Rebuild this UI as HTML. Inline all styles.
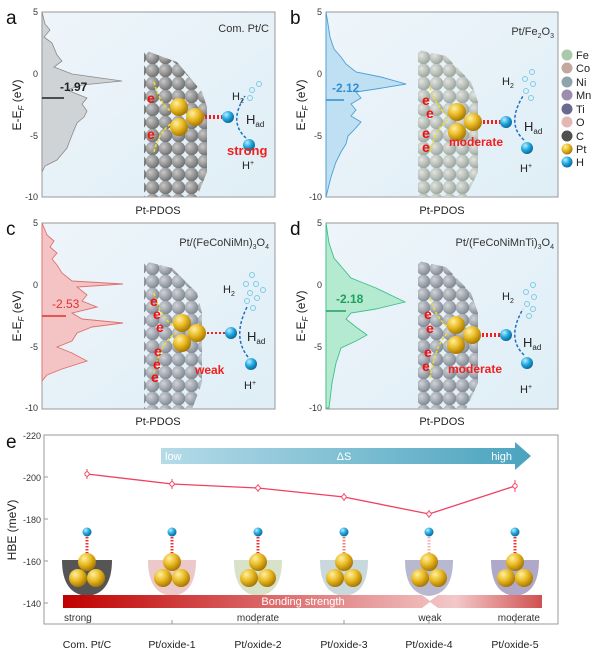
<!DOCTYPE html>
<html><head><meta charset="utf-8"><style>
html,body{margin:0;padding:0;background:#fff}
svg{display:block;font-family:"Liberation Sans",sans-serif}
</style></head><body>
<svg width="600" height="656" viewBox="0 0 600 656" xmlns="http://www.w3.org/2000/svg">
<defs>
<linearGradient id="bg" x1="0" y1="0" x2="1" y2="1"><stop offset="0" stop-color="#eef5fa"/><stop offset="1" stop-color="#dfeef6"/></linearGradient>
<radialGradient id="gray" cx="0.35" cy="0.35" r="0.7"><stop offset="0" stop-color="#c8c8c8"/><stop offset="1" stop-color="#6d6d6d"/></radialGradient>
<radialGradient id="mix" cx="0.35" cy="0.35" r="0.7"><stop offset="0" stop-color="#e2e4e0"/><stop offset="1" stop-color="#9aa39c"/></radialGradient>
<radialGradient id="mix2" cx="0.35" cy="0.35" r="0.7"><stop offset="0" stop-color="#d0d4d8"/><stop offset="1" stop-color="#7e8590"/></radialGradient>
<radialGradient id="gold" cx="0.35" cy="0.3" r="0.75"><stop offset="0" stop-color="#fff0a0"/><stop offset="0.5" stop-color="#e8b820"/><stop offset="1" stop-color="#a07000"/></radialGradient>
<radialGradient id="blue" cx="0.35" cy="0.3" r="0.75"><stop offset="0" stop-color="#b8eeff"/><stop offset="0.5" stop-color="#1fa8e0"/><stop offset="1" stop-color="#0a6090"/></radialGradient>
<pattern id="pg" width="13" height="13" patternUnits="userSpaceOnUse"><circle cx="6.5" cy="6.5" r="6.8" fill="url(#gray)"/></pattern>
<pattern id="pm" width="13" height="13" patternUnits="userSpaceOnUse"><circle cx="6.5" cy="6.5" r="6.8" fill="url(#mix)"/></pattern>
<pattern id="pm2" width="13" height="13" patternUnits="userSpaceOnUse"><circle cx="6.5" cy="6.5" r="6.8" fill="url(#mix2)"/></pattern>
<linearGradient id="ds" x1="0" x2="1"><stop offset="0" stop-color="#b5dbe8"/><stop offset="1" stop-color="#4aa3be"/></linearGradient>
<linearGradient id="bs" x1="0" x2="1"><stop offset="0" stop-color="#c00000"/><stop offset="0.82" stop-color="#f3c8c8"/><stop offset="1" stop-color="#d05050"/></linearGradient>
</defs>

<g font-size="19" fill="#111">
<text x="6" y="24">a</text><text x="290" y="24">b</text>
<text x="6" y="235">c</text><text x="290" y="235">d</text>
<text x="6" y="448">e</text>
</g>

<g font-size="9" fill="#333">
<g transform="translate(42,12)">
<rect width="233" height="185" fill="url(#bg)" stroke="#999"/>
<polygon points="0,0 3,12 8,18 2,25 10,31 15,43 20,49 12,55 30,62 80,69 40,73 25,78 45,86 40,92 45,99 42,105 35,111 30,123 25,136 15,148 3,154 0,160" fill="#cfd3d6" stroke="#8a8a8a" stroke-width="0.8"/>
<line x1="0" y1="86" x2="22" y2="86" stroke="#222" stroke-width="1.5"/>
<text x="18" y="79" font-size="12" font-weight="bold" fill="#222">-1.97</text>
<text x="227" y="20" font-size="11" text-anchor="end">Com. Pt/C</text>
<polygon points="102,38 135,50 160,80 165,95 165,160 155,185 102,185" fill="url(#pg)"/>
</g>
<g transform="translate(326,12)">
<rect width="232" height="185" fill="url(#bg)" stroke="#999"/>
<polygon points="0,0 2,12 4,25 8,37 15,45 20,52 30,60 55,65 80,72 50,77 30,80 35,86 25,92 30,98 25,104 35,110 28,118 22,124 20,132 15,140 10,150 5,165 0,185" fill="#bfe0f2" stroke="#4a9fd8" stroke-width="0.9"/>
<line x1="0" y1="88" x2="18" y2="88" stroke="#2f8fd0" stroke-width="1.5"/>
<text x="6" y="80" font-size="12" font-weight="bold" fill="#2f8fd0">-2.12</text>
<text x="228" y="23" font-size="11" text-anchor="end">Pt/Fe<tspan font-size="7" dy="3">2</tspan><tspan dy="-3">O</tspan><tspan font-size="7" dy="3">3</tspan></text>
<polygon points="92,38 120,44 145,70 152,90 152,160 140,185 92,185" fill="url(#pm)"/>
</g>
<g transform="translate(42,223)">
<rect width="233" height="186" fill="url(#bg)" stroke="#999"/>
<polygon points="0,0 5,12 12,18 8,24 15,30 10,36 15,42 20,50 30,58 81,61 35,64 45,72 40,78 55,84 30,90 40,96 81,100 50,104 35,110 30,118 15,124 30,130 45,138 20,146 5,152 0,158" fill="#f4c4c4" stroke="#e07070" stroke-width="0.9"/>
<line x1="0" y1="93" x2="24" y2="93" stroke="#e03030" stroke-width="1.5"/>
<text x="10" y="85" font-size="12" fill="#e03030">-2.53</text>
<text x="227" y="23" font-size="11" text-anchor="end">Pt/(FeCoNiMn)<tspan font-size="7" dy="3">3</tspan><tspan dy="-3">O</tspan><tspan font-size="7" dy="3">4</tspan></text>
<polygon points="102,38 130,45 155,70 160,90 160,160 150,186 102,186" fill="url(#pm2)"/>
</g>
<g transform="translate(326,223)">
<rect width="232" height="186" fill="url(#bg)" stroke="#999"/>
<polygon points="0,0 3,20 8,35 25,55 50,65 79,79 50,86 25,90 20,96 30,104 41,112 30,118 15,125 10,140 6,160 3,185 0,185" fill="#b4ead0" stroke="#3fbf8a" stroke-width="0.9"/>
<line x1="0" y1="88" x2="20" y2="88" stroke="#20a060" stroke-width="1.5"/>
<text x="10" y="80" font-size="12" font-weight="bold" fill="#20a060">-2.18</text>
<text x="228" y="23" font-size="11" text-anchor="end">Pt/(FeCoNiMnTi)<tspan font-size="7" dy="3">3</tspan><tspan dy="-3">O</tspan><tspan font-size="7" dy="3">4</tspan></text>
<polygon points="92,38 120,44 145,70 152,90 152,160 140,186 92,186" fill="url(#pm2)"/>
</g>
</g>

<g font-size="9" fill="#333" text-anchor="end">
<text x="38" y="15">5</text><text x="38" y="77">0</text><text x="38" y="139">-5</text><text x="38" y="200">-10</text>
<text x="322" y="15">5</text><text x="322" y="77">0</text><text x="322" y="139">-5</text><text x="322" y="200">-10</text>
<text x="38" y="226">5</text><text x="38" y="288">0</text><text x="38" y="350">-5</text><text x="38" y="411">-10</text>
<text x="322" y="226">5</text><text x="322" y="288">0</text><text x="322" y="350">-5</text><text x="322" y="411">-10</text>
</g>
<g font-size="12" fill="#222" text-anchor="middle">
<text transform="translate(21,105) rotate(-90)">E-E<tspan font-size="8" dy="3" font-style="italic">F</tspan><tspan dy="-3"> (eV)</tspan></text>
<text transform="translate(305,105) rotate(-90)">E-E<tspan font-size="8" dy="3" font-style="italic">F</tspan><tspan dy="-3"> (eV)</tspan></text>
<text transform="translate(21,316) rotate(-90)">E-E<tspan font-size="8" dy="3" font-style="italic">F</tspan><tspan dy="-3"> (eV)</tspan></text>
<text transform="translate(305,316) rotate(-90)">E-E<tspan font-size="8" dy="3" font-style="italic">F</tspan><tspan dy="-3"> (eV)</tspan></text>
<text x="158" y="214" font-size="11">Pt-PDOS</text><text x="442" y="214" font-size="11">Pt-PDOS</text>
<text x="158" y="425" font-size="11">Pt-PDOS</text><text x="442" y="425" font-size="11">Pt-PDOS</text>
</g>

<g>
<g transform="translate(42,12)">
<path d="M112,70 Q118,95 136,104 M112,140 Q118,115 136,108" stroke="#f0e020" stroke-width="1.5" stroke-dasharray="3,2" fill="none"/>
<text x="105" y="91" font-size="14" font-weight="bold" fill="#f01010">e</text>
<text x="105" y="127" font-size="14" font-weight="bold" fill="#f01010">e</text>
<circle cx="137" cy="95" r="9" fill="url(#gold)"/><circle cx="137" cy="115" r="9" fill="url(#gold)"/><circle cx="153" cy="105" r="9" fill="url(#gold)"/>
<path d="M163,105 H180" stroke="#f02020" stroke-width="4" stroke-dasharray="2,2"/>
<circle cx="186" cy="105" r="6" fill="url(#blue)"/><circle cx="207" cy="133" r="6" fill="url(#blue)"/>
<path d="M204,126 Q186,110 203,84" stroke="#1f70c0" stroke-width="1.5" stroke-dasharray="3,2" fill="none"/>
<text x="185" y="143" font-size="13" font-weight="bold" fill="#f02020">strong</text>
<text x="190" y="88" font-size="11" fill="#222">H<tspan font-size="7" dy="3">2</tspan></text>
<circle cx="210" cy="78" r="2.5" fill="none" stroke="#7ccbe8"/><circle cx="217" cy="72" r="2.5" fill="none" stroke="#7ccbe8"/><circle cx="208" cy="86" r="2.5" fill="none" stroke="#7ccbe8"/>
<text x="204" y="112" font-size="13" fill="#222">H<tspan font-size="8" dy="3">ad</tspan></text>
<text x="200" y="157" font-size="11" fill="#222">H<tspan font-size="7" dy="-4">+</tspan></text>
</g>
<g transform="translate(326,12)">
<path d="M104,75 Q110,95 122,104 M104,140 Q110,115 122,108" stroke="#f0e020" stroke-width="1.5" stroke-dasharray="3,2" fill="none"/>
<g font-size="14" font-weight="bold" fill="#f01010"><text x="96" y="93">e</text><text x="100" y="106">e</text><text x="96" y="126">e</text><text x="96" y="140">e</text></g>
<circle cx="131" cy="100" r="9" fill="url(#gold)"/><circle cx="131" cy="120" r="9" fill="url(#gold)"/><circle cx="147" cy="110" r="9" fill="url(#gold)"/>
<path d="M157,110 H175" stroke="#f02020" stroke-width="4" stroke-dasharray="2,2"/>
<circle cx="180" cy="110" r="6" fill="url(#blue)"/><circle cx="201" cy="136" r="6" fill="url(#blue)"/>
<path d="M198,128 Q180,112 197,84" stroke="#1f70c0" stroke-width="1.5" stroke-dasharray="3,2" fill="none"/>
<text x="123" y="134" font-size="12" font-weight="bold" fill="#f02020">moderate</text>
<text x="176" y="73" font-size="11" fill="#222">H<tspan font-size="7" dy="3">2</tspan></text>
<g fill="none" stroke="#7ccbe8"><circle cx="206" cy="60" r="2.5"/><circle cx="199" cy="67" r="2.5"/><circle cx="207" cy="72" r="2.5"/><circle cx="200" cy="79" r="2.5"/><circle cx="205" cy="86" r="2.5"/></g>
<text x="198" y="119" font-size="13" fill="#222">H<tspan font-size="8" dy="3">ad</tspan></text>
<text x="194" y="160" font-size="11" fill="#222">H<tspan font-size="7" dy="-4">+</tspan></text>
</g>
<g transform="translate(42,223)">
<path d="M112,70 Q118,95 134,105 M112,150 Q118,120 134,110" stroke="#f0e020" stroke-width="1.5" stroke-dasharray="3,2" fill="none"/>
<g font-size="14" font-weight="bold" fill="#f01010"><text x="108" y="83">e</text><text x="111" y="96">e</text><text x="114" y="109">e</text><text x="112" y="133">e</text><text x="111" y="146">e</text><text x="109" y="159">e</text></g>
<circle cx="140" cy="100" r="9" fill="url(#gold)"/><circle cx="140" cy="120" r="9" fill="url(#gold)"/><circle cx="155" cy="110" r="9" fill="url(#gold)"/>
<path d="M165,110 H183" stroke="#f02020" stroke-width="2" stroke-dasharray="2,2"/>
<circle cx="189" cy="110" r="6" fill="url(#blue)"/><circle cx="209" cy="141" r="6" fill="url(#blue)"/>
<path d="M206,134 Q190,114 205,84" stroke="#1f70c0" stroke-width="1.5" stroke-dasharray="3,2" fill="none"/>
<text x="153" y="151" font-size="12" font-weight="bold" fill="#f02020">weak</text>
<text x="181" y="70" font-size="11" fill="#222">H<tspan font-size="7" dy="3">2</tspan></text>
<g fill="none" stroke="#7ccbe8"><circle cx="210" cy="52" r="2.5"/><circle cx="204" cy="61" r="2.5"/><circle cx="214" cy="61" r="2.5"/><circle cx="221" cy="67" r="2.5"/><circle cx="208" cy="70" r="2.5"/><circle cx="215" cy="75" r="2.5"/><circle cx="205" cy="78" r="2.5"/><circle cx="211" cy="85" r="2.5"/></g>
<text x="205" y="118" font-size="13" fill="#222">H<tspan font-size="8" dy="3">ad</tspan></text>
<text x="202" y="166" font-size="11" fill="#222">H<tspan font-size="7" dy="-4">+</tspan></text>
</g>
<g transform="translate(326,223)">
<path d="M104,75 Q110,95 122,104 M104,155 Q110,120 122,110" stroke="#f0e020" stroke-width="1.5" stroke-dasharray="3,2" fill="none"/>
<g font-size="14" font-weight="bold" fill="#f01010"><text x="98" y="96">e</text><text x="100" y="110">e</text><text x="98" y="134">e</text><text x="96" y="148">e</text></g>
<circle cx="130" cy="102" r="9" fill="url(#gold)"/><circle cx="130" cy="122" r="9" fill="url(#gold)"/><circle cx="146" cy="112" r="9" fill="url(#gold)"/>
<path d="M156,112 H175" stroke="#f02020" stroke-width="4" stroke-dasharray="2,2"/>
<circle cx="180" cy="112" r="6" fill="url(#blue)"/><circle cx="201" cy="140" r="6" fill="url(#blue)"/>
<path d="M198,132 Q180,115 197,86" stroke="#1f70c0" stroke-width="1.5" stroke-dasharray="3,2" fill="none"/>
<text x="122" y="150" font-size="12" font-weight="bold" fill="#f02020">moderate</text>
<text x="176" y="77" font-size="11" fill="#222">H<tspan font-size="7" dy="3">2</tspan></text>
<g fill="none" stroke="#7ccbe8"><circle cx="207" cy="62" r="2.5"/><circle cx="200" cy="69" r="2.5"/><circle cx="208" cy="74" r="2.5"/><circle cx="201" cy="81" r="2.5"/><circle cx="207" cy="86" r="2.5"/><circle cx="203" cy="93" r="2.5"/></g>
<text x="197" y="124" font-size="13" fill="#222">H<tspan font-size="8" dy="3">ad</tspan></text>
<text x="194" y="170" font-size="11" fill="#222">H<tspan font-size="7" dy="-4">+</tspan></text>
</g>
</g>

<g font-size="11" fill="#222">
<circle cx="567" cy="55" r="5.5" fill="#a9c9a9"/><text x="576" y="59">Fe</text>
<circle cx="567" cy="68" r="5.5" fill="#c2a9a0"/><text x="576" y="72">Co</text>
<circle cx="567" cy="82" r="5.5" fill="#8fa4aa"/><text x="576" y="86">Ni</text>
<circle cx="567" cy="95" r="5.5" fill="#9b8db0"/><text x="576" y="99">Mn</text>
<circle cx="567" cy="109" r="5.5" fill="#6a6a90"/><text x="576" y="113">Ti</text>
<circle cx="567" cy="122" r="5.5" fill="#e3b8b4"/><text x="576" y="126">O</text>
<circle cx="567" cy="136" r="5.5" fill="#505050"/><text x="576" y="140">C</text>
<circle cx="567" cy="149" r="5.5" fill="url(#gold)"/><text x="576" y="153">Pt</text>
<circle cx="567" cy="162" r="5.5" fill="url(#blue)"/><text x="576" y="166">H</text>
</g>

<rect x="44" y="435" width="514" height="189" fill="#fff" stroke="#999"/>
<g font-size="9" fill="#333" text-anchor="end">
<text x="41" y="439">-220</text><text x="41" y="481">-200</text><text x="41" y="523">-180</text><text x="41" y="565">-160</text><text x="41" y="607">-140</text>
</g>
<g stroke="#999"><line x1="44" y1="477" x2="48" y2="477"/><line x1="44" y1="519" x2="48" y2="519"/><line x1="44" y1="561" x2="48" y2="561"/><line x1="44" y1="603" x2="48" y2="603"/>
<line x1="87" y1="624" x2="87" y2="620"/><line x1="172" y1="624" x2="172" y2="620"/><line x1="258" y1="624" x2="258" y2="620"/><line x1="344" y1="624" x2="344" y2="620"/><line x1="429" y1="624" x2="429" y2="620"/><line x1="515" y1="624" x2="515" y2="620"/></g>
<text transform="translate(16,530) rotate(-90)" font-size="12" text-anchor="middle" fill="#222">HBE (meV)</text>

<polygon points="161,448 515,448 515,442 531,456 515,470 515,464 161,464" fill="url(#ds)"/>
<text x="165" y="460" font-size="11" fill="#fff">low</text>
<text x="344" y="460" font-size="11" fill="#fff" text-anchor="middle">ΔS</text>
<text x="512" y="460" font-size="11" fill="#fff" text-anchor="end">high</text>

<polyline points="87,474 172,484 258,488 344,497 429,514 515,486" fill="none" stroke="#f04060" stroke-width="1.3"/>
<g stroke="#f04060" fill="#fff" stroke-width="1">
<line x1="87" y1="469" x2="87" y2="479"/><circle cx="87" cy="474" r="2.2"/>
<line x1="172" y1="479" x2="172" y2="489"/><circle cx="172" cy="484" r="2.2"/>
<line x1="258" y1="484" x2="258" y2="492"/><circle cx="258" cy="488" r="2.2"/>
<line x1="344" y1="493" x2="344" y2="501"/><circle cx="344" cy="497" r="2.2"/>
<line x1="429" y1="510" x2="429" y2="518"/><circle cx="429" cy="514" r="2.2"/>
<line x1="515" y1="480" x2="515" y2="492"/><circle cx="515" cy="486" r="2.2"/>
</g>

<g transform="translate(0,-18)">
<g>
<path d="M62,578 Q62,612 87,614 Q112,612 112,578 Z" fill="#555"/>
<path d="M148,578 Q148,612 172,614 Q196,612 196,578 Z" fill="#ecc8c8"/>
<path d="M234,578 Q234,612 258,614 Q282,612 282,578 Z" fill="#d8e2c8"/>
<path d="M320,578 Q320,612 344,614 Q368,612 368,578 Z" fill="#c8d8dc"/>
<path d="M405,578 Q405,612 429,614 Q453,612 453,578 Z" fill="#b8b8d0"/>
<path d="M491,578 Q491,612 515,614 Q539,612 539,578 Z" fill="#b0a8c8"/>
</g>
<g stroke="#f03030" stroke-width="3" stroke-dasharray="1.5,1.5">
<line x1="87" y1="555" x2="87" y2="574"/><line x1="172" y1="555" x2="172" y2="574"/><line x1="258" y1="555" x2="258" y2="574"/>
<line x1="344" y1="555" x2="344" y2="574" stroke="#f08080"/><line x1="429" y1="555" x2="429" y2="574" stroke="#f8b0b0"/><line x1="515" y1="555" x2="515" y2="574"/>
</g>
<g>
<circle cx="87" cy="550" r="4.5" fill="url(#blue)"/><circle cx="172" cy="550" r="4.5" fill="url(#blue)"/><circle cx="258" cy="550" r="4.5" fill="url(#blue)"/><circle cx="344" cy="550" r="4.5" fill="url(#blue)"/><circle cx="429" cy="550" r="4.5" fill="url(#blue)"/><circle cx="515" cy="550" r="4.5" fill="url(#blue)"/>
</g>
<g>
<circle cx="87" cy="580" r="9" fill="url(#gold)"/><circle cx="78" cy="596" r="9" fill="url(#gold)"/><circle cx="96" cy="596" r="9" fill="url(#gold)"/>
<circle cx="172" cy="580" r="9" fill="url(#gold)"/><circle cx="163" cy="596" r="9" fill="url(#gold)"/><circle cx="181" cy="596" r="9" fill="url(#gold)"/>
<circle cx="258" cy="580" r="9" fill="url(#gold)"/><circle cx="249" cy="596" r="9" fill="url(#gold)"/><circle cx="267" cy="596" r="9" fill="url(#gold)"/>
<circle cx="344" cy="580" r="9" fill="url(#gold)"/><circle cx="335" cy="596" r="9" fill="url(#gold)"/><circle cx="353" cy="596" r="9" fill="url(#gold)"/>
<circle cx="429" cy="580" r="9" fill="url(#gold)"/><circle cx="420" cy="596" r="9" fill="url(#gold)"/><circle cx="438" cy="596" r="9" fill="url(#gold)"/>
<circle cx="515" cy="580" r="9" fill="url(#gold)"/><circle cx="506" cy="596" r="9" fill="url(#gold)"/><circle cx="524" cy="596" r="9" fill="url(#gold)"/>
</g>
</g>

<polygon points="63,595 422,595 430,601 438,595 542,595 542,608 438,608 430,602 422,608 63,608" fill="url(#bs)"/>
<text x="303" y="605" font-size="11" fill="#fff" text-anchor="middle">Bonding strength</text>
<g font-size="10" fill="#333">
<text x="64" y="621">strong</text>
<text x="258" y="621" text-anchor="middle">moderate</text>
<text x="430" y="621" text-anchor="middle">weak</text>
<text x="540" y="621" text-anchor="end">moderate</text>
</g>
<g font-size="10.5" fill="#222" text-anchor="middle">
<text x="87" y="648">Com. Pt/C</text><text x="172" y="648">Pt/oxide-1</text><text x="258" y="648">Pt/oxide-2</text>
<text x="344" y="648">Pt/oxide-3</text><text x="429" y="648">Pt/oxide-4</text><text x="515" y="648">Pt/oxide-5</text>
</g>
</svg>
</body></html>
